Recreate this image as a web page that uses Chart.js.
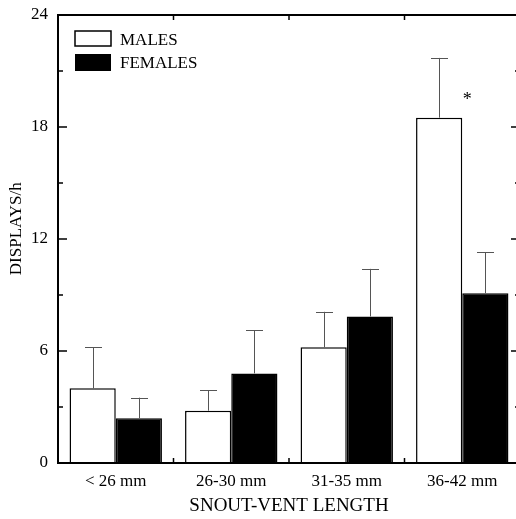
<!DOCTYPE html>
<html>
<head>
<meta charset="utf-8">
<script src="https://cdn.jsdelivr.net/npm/chart.js@4.4.0/dist/chart.umd.min.js"></script>
<style>
  html, body { margin: 0; padding: 0; background: #fff; overflow: hidden; }
  #wrap { width: 516px; height: 519px; overflow: hidden; }
</style>
</head>
<body>
<div id="wrap"><canvas id="displayChart" width="524" height="519"></canvas></div>
<script>
const categories = ["< 26 mm", "26-30 mm", "31-35 mm", "36-42 mm"];
const males = [4.0, 2.8, 6.2, 18.5];
const malesUpper = [6.2, 3.9, 8.1, 21.7];
const females = [2.4, 4.8, 7.85, 9.1];
const femalesUpper = [3.5, 7.1, 10.4, 11.3];
const yTicks = [0, 6, 12, 18, 24];
const minorTicks = [3, 9, 15, 21];
const starMarks = ["", "", "", "*"];
const starValue = 19.6;
const yTitle = "DISPLAYS/h";

const FONT = "'Liberation Serif', 'Times New Roman', serif";

// error bars drawn on top of the bars (upper limit only)
const errorBarPlugin = {
  id: "errorBars",
  afterDatasetsDraw(chart) {
    const ctx = chart.ctx;
    const yScale = chart.scales.y;
    const uppers = [malesUpper, femalesUpper];
    ctx.save();
    ctx.strokeStyle = "#555";
    ctx.lineWidth = 1;
    chart.data.datasets.forEach(function (ds, di) {
      const meta = chart.getDatasetMeta(di);
      meta.data.forEach(function (bar, i) {
        const top = yScale.getPixelForValue(uppers[di][i]);
        const x = Math.round(bar.x) + 0.5;
        ctx.beginPath();
        ctx.moveTo(x, bar.y);
        ctx.lineTo(x, top);
        ctx.moveTo(x - 8.5, Math.round(top) + 0.5);
        ctx.lineTo(x + 8.5, Math.round(top) + 0.5);
        ctx.stroke();
      });
    });
    ctx.restore();
  },
};

// frame, inward ticks, legend, y title and asterisk
const framePlugin = {
  id: "frame",
  afterDraw(chart) {
    const ctx = chart.ctx;
    const area = chart.chartArea;
    const xScale = chart.scales.x;
    const yScale = chart.scales.y;
    ctx.save();
    ctx.strokeStyle = "#000";
    ctx.lineWidth = 2;
    ctx.strokeRect(area.left, area.top, area.right - area.left, area.bottom - area.top);

    ctx.lineWidth = 1.5;
    ctx.beginPath();
    yTicks.slice(1, -1).forEach(function (v) {
      const y = yScale.getPixelForValue(v);
      ctx.moveTo(area.left, y);
      ctx.lineTo(area.left + 9, y);
      ctx.moveTo(area.right, y);
      ctx.lineTo(area.right - 9, y);
    });
    minorTicks.forEach(function (v) {
      const y = yScale.getPixelForValue(v);
      ctx.moveTo(area.left, y);
      ctx.lineTo(area.left + 5, y);
      ctx.moveTo(area.right, y);
      ctx.lineTo(area.right - 5, y);
    });
    for (let i = 1; i < categories.length; i++) {
      const x = (xScale.getPixelForValue(i - 1) + xScale.getPixelForValue(i)) / 2;
      ctx.moveTo(x, area.top);
      ctx.lineTo(x, area.top + 5);
      ctx.moveTo(x, area.bottom);
      ctx.lineTo(x, area.bottom - 5);
    }
    ctx.stroke();

    // legend inside the plot
    const lx = area.left + 17;
    const ly = area.top + 16;
    ctx.lineWidth = 1.5;
    ctx.fillStyle = "#fff";
    ctx.fillRect(lx, ly, 36, 15);
    ctx.strokeRect(lx, ly, 36, 15);
    ctx.fillStyle = "#000";
    ctx.fillRect(lx, ly + 23, 36, 17);
    ctx.font = "17px " + FONT;
    ctx.textBaseline = "alphabetic";
    ctx.fillText(chart.data.datasets[0].label, lx + 45, ly + 14);
    ctx.fillText(chart.data.datasets[1].label, lx + 45, ly + 37);

    // y axis title, sits a little above the middle of the axis
    ctx.save();
    ctx.translate(17, yScale.getPixelForValue(12.55));
    ctx.rotate(-Math.PI / 2);
    ctx.textAlign = "center";
    ctx.textBaseline = "middle";
    ctx.fillText(yTitle, 0, 0);
    ctx.restore();

    // significance marks
    ctx.font = "18px " + FONT;
    ctx.textAlign = "center";
    starMarks.forEach(function (s, i) {
      if (!s) return;
      ctx.fillText(s, xScale.getPixelForValue(i) + 5, yScale.getPixelForValue(starValue) + 8);
    });
    ctx.restore();
  },
};

const ctx = document.getElementById("displayChart").getContext("2d");
new Chart(ctx, {
  type: "bar",
  data: {
    labels: categories,
    datasets: [
      {
        label: "MALES",
        data: males,
        backgroundColor: "#fff",
        borderColor: "#000",
        borderWidth: 1.5,
        borderSkipped: "bottom",
      },
      {
        label: "FEMALES",
        data: females,
        backgroundColor: "#000",
        borderColor: "#000",
        borderWidth: 1.5,
        borderSkipped: "bottom",
      },
    ],
  },
  options: {
    responsive: false,
    animation: false,
    devicePixelRatio: 1,
    layout: { padding: { top: 15, right: 4, left: 0, bottom: 0 } },
    categoryPercentage: 0.8,
    barPercentage: 1.0,
    plugins: {
      legend: { display: false },
      tooltip: { enabled: false },
    },
    scales: {
      x: {
        grid: { display: false, drawTicks: false },
        border: { display: false },
        ticks: { color: "#000", padding: 8, font: { family: FONT, size: 17 } },
        title: {
          display: true,
          text: "SNOUT-VENT LENGTH",
          color: "#000",
          font: { family: FONT, size: 19 },
          padding: { top: 0, bottom: 2 },
        },
        afterFit: function (scale) {
          scale.height = 56;
        },
      },
      y: {
        min: 0,
        max: 24,
        grid: { display: false, drawTicks: false },
        border: { display: false },
        afterBuildTicks: function (scale) {
          scale.ticks = yTicks.map(function (v) { return { value: v }; });
        },
        ticks: { color: "#000", padding: 10, font: { family: FONT, size: 17 } },
        afterFit: function (scale) {
          scale.width = 58;
          scale.paddingTop = 0;
          scale.paddingBottom = 0;
        },
      },
    },
  },
  plugins: [errorBarPlugin, framePlugin],
});
</script>
</body>
</html>
